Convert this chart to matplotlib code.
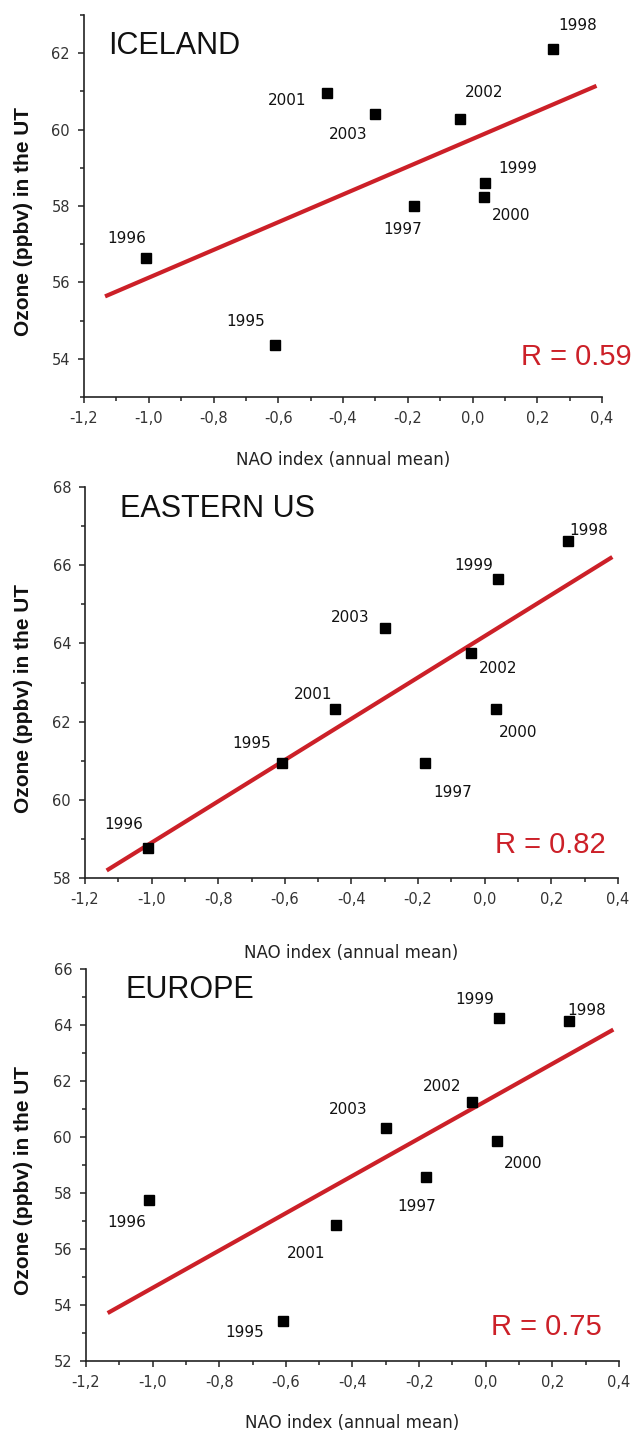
import matplotlib
matplotlib.use("Agg")
import matplotlib.pyplot as plt
import numpy as np
from matplotlib.ticker import MultipleLocator, FuncFormatter

FIG_W, FIG_H = 635, 1432
DPI = 100

YEARS = ["1995", "1996", "1997", "1998", "1999", "2000", "2001", "2002", "2003"]
NAO_INDEX = [-0.61, -1.01, -0.18, 0.25, 0.04, 0.035, -0.45, -0.04, -0.30]

OZONE_ICELAND = [54.36, 56.65, 57.99, 62.11, 58.59, 58.23, 60.95, 60.28, 60.41]
OZONE_EASTERN_US = [60.95, 58.77, 60.94, 66.61, 65.65, 62.32, 62.32, 63.76, 64.40]
OZONE_EUROPE = [53.44, 57.75, 58.56, 64.14, 64.25, 59.85, 56.87, 61.25, 60.32]

REGIONS = ["ICELAND", "EASTERN US", "EUROPE"]
OZONE = [OZONE_ICELAND, OZONE_EASTERN_US, OZONE_EUROPE]
R_VALUES = [0.59, 0.82, 0.75]
YLIMS = [(53, 63), (58, 68), (52, 66)]
XLIM = (-1.2, 0.4)
FIT_RANGE = [-1.135, 0.383]

# layout in pixels: axes box (left, top, right, bottom), title (x, baseline),
# R label (center x, baseline), x-label top
LAYOUT = [
    dict(box=(84, 15, 602, 397), title=(108, 54), rlab=(576, 365), xlab_top=451),
    dict(box=(85, 487, 618, 878), title=(120, 517), rlab=(550, 853), xlab_top=944),
    dict(box=(86, 969, 619, 1361), title=(125, 998), rlab=(546, 1335), xlab_top=1414),
]

# year label offsets from marker (pixels, right / down)
LABEL_OFFSETS = [
    [(-29, -24), (-19, -19), (-12, 23), (24, -23), (32, -15), (27, 18), (-40, 7), (25, -26), (-27, 21)],
    [(-30, -19), (-25, -23), (28, 29), (21, -11), (-24, -13), (22, 23), (-22, -15), (27, 16), (-35, -10)],
    [(-38, 12), (-23, 23), (-9, 29), (18, -11), (-24, -18), (26, 22), (-30, 29), (-30, -15), (-38, -19)],
]

RED = "#cc2028"
AXIS_COLOR = "#222222"


def fx(px):
    return px / FIG_W


def fy(py):
    return 1 - py / FIG_H


def x_fmt(v, _):
    if abs(v) < 1e-9:
        v = 0.0
    return f"{v:.1f}".replace(".", ",")


def draw_panel(fig, idx):
    lay = LAYOUT[idx]
    left, top, right, bottom = lay["box"]
    ax = fig.add_axes([fx(left), fy(bottom), (right - left) / FIG_W, (bottom - top) / FIG_H])

    x = np.array(NAO_INDEX)
    y = np.array(OZONE[idx])

    # linear regression line over the drawn range
    slope, intercept = np.polyfit(x, y, 1)
    xf = np.array(FIT_RANGE)
    ax.plot(xf, slope * xf + intercept, color=RED, lw=3.0, solid_capstyle="butt", zorder=2)

    ax.plot(x, y, "s", color="black", ms=7, zorder=3)

    for xi, yi, year, (dx, dy) in zip(x, y, YEARS, LABEL_OFFSETS[idx]):
        ax.annotate(year, (xi, yi), xytext=(dx, -dy), textcoords="offset pixels",
                    ha="center", va="center", fontsize=11, color="#111111",
                    family="DejaVu Sans")

    ax.set_xlim(*XLIM)
    ax.set_ylim(*YLIMS[idx])
    ax.xaxis.set_major_locator(MultipleLocator(0.2))
    ax.xaxis.set_minor_locator(MultipleLocator(0.1))
    ax.yaxis.set_major_locator(MultipleLocator(2))
    ax.yaxis.set_minor_locator(MultipleLocator(1))
    ax.xaxis.set_major_formatter(FuncFormatter(x_fmt))

    for side in ["top", "right"]:
        ax.spines[side].set_visible(False)
    for side in ["left", "bottom"]:
        ax.spines[side].set_linewidth(1.2)
        ax.spines[side].set_color(AXIS_COLOR)

    ax.tick_params(which="major", direction="out", length=4, width=1.1, color=AXIS_COLOR,
                   labelsize=10.5, labelcolor="#333333", pad=6)
    ax.tick_params(which="minor", direction="out", length=3, width=1.1, color=AXIS_COLOR)
    for lab in ax.get_xticklabels() + ax.get_yticklabels():
        lab.set_family("DejaVu Sans")

    ax.set_xlabel("NAO index (annual mean)", fontsize=12, family="DejaVu Sans", color="#222222")
    ax.xaxis.set_label_coords(0.5, (bottom - lay["xlab_top"]) / (bottom - top))
    ax.set_ylabel("Ozone (ppbv) in the UT", fontsize=15, fontweight="bold",
                  family="Liberation Sans", color="#111111")
    ax.yaxis.set_label_coords((33 - left) / (right - left), 0.46)

    tx, ty = lay["title"]
    fig.text(fx(tx), fy(ty), REGIONS[idx], fontsize=22, family="Liberation Sans",
             color="#111111", ha="left", va="baseline")

    rx, ry = lay["rlab"]
    fig.text(fx(rx), fy(ry), f"R = {R_VALUES[idx]:.2f}", fontsize=21, family="Liberation Sans",
             color=RED, ha="center", va="baseline")
    return ax


def main():
    fig = plt.figure(figsize=(FIG_W / DPI, FIG_H / DPI), dpi=DPI)
    fig.patch.set_facecolor("white")
    for idx in range(len(REGIONS)):
        draw_panel(fig, idx)
    fig.savefig("out.png", dpi=DPI)


if __name__ == "__main__":
    main()
